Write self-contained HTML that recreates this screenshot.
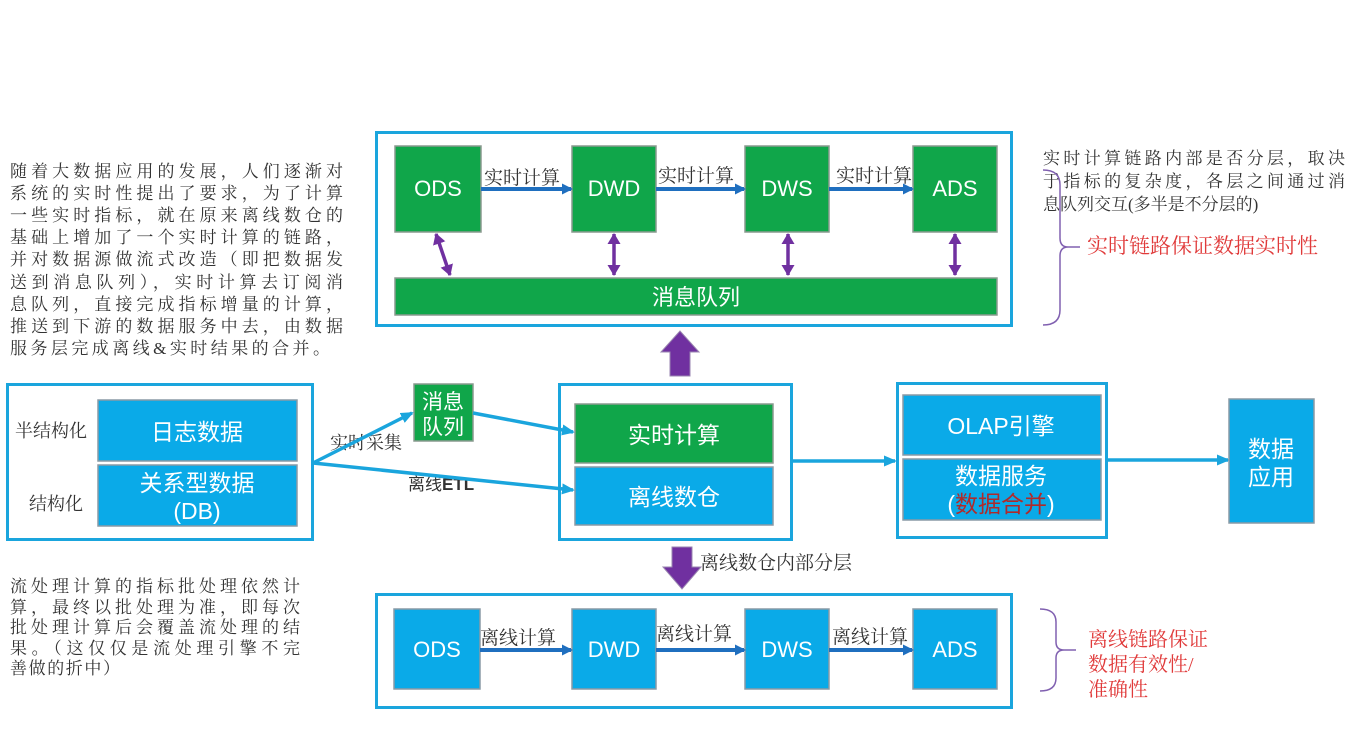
<!DOCTYPE html>
<html><head><meta charset="utf-8">
<style>
html,body{margin:0;padding:0;background:#fff;}
svg{display:block;}
.s{font-family:"Liberation Serif","Noto Serif CJK SC",serif;fill:#333;}
.w{font-family:"Liberation Sans","Noto Sans CJK SC",sans-serif;fill:#fff;}
.r{font-family:"Liberation Serif","Noto Serif CJK SC",serif;fill:#e03a3a;}
</style></head>
<body>
<svg width="1372" height="750" viewBox="0 0 1372 750" xmlns="http://www.w3.org/2000/svg">
<defs>
<marker id="ab" markerWidth="11" markerHeight="11" refX="9" refY="5.5" orient="auto" markerUnits="userSpaceOnUse"><path d="M0,0 L11,5.5 L0,11 z" fill="#1f6fbf"/></marker>
<marker id="al" markerWidth="13" markerHeight="11" refX="11" refY="5.5" orient="auto" markerUnits="userSpaceOnUse"><path d="M0,0 L13,5.5 L0,11 z" fill="#1aa5dd"/></marker>
<marker id="pe" markerWidth="11" markerHeight="13" refX="10" refY="6.5" orient="auto" markerUnits="userSpaceOnUse"><path d="M0,0 L11,6.5 L0,13 z" fill="#7030a0"/></marker>
<marker id="ps" markerWidth="11" markerHeight="13" refX="1" refY="6.5" orient="auto" markerUnits="userSpaceOnUse"><path d="M11,0 L0,6.5 L11,13 z" fill="#7030a0"/></marker>
</defs>

<g class="s" font-size="17">
<text x="10" y="177" textLength="333">随着大数据应用的发展，人们逐渐对</text>
<text x="10" y="199" textLength="333">系统的实时性提出了要求，为了计算</text>
<text x="10" y="221" textLength="333">一些实时指标，就在原来离线数仓的</text>
<text x="10" y="243" textLength="333">基础上增加了一个实时计算的链路，</text>
<text x="10" y="265" textLength="333">并对数据源做流式改造（即把数据发</text>
<text x="10" y="288" textLength="333">送到消息队列），实时计算去订阅消</text>
<text x="10" y="310" textLength="333">息队列，直接完成指标增量的计算，</text>
<text x="10" y="332" textLength="333">推送到下游的数据服务中去，由数据</text>
<text x="10" y="354" textLength="320">服务层完成离线&amp;实时结果的合并。</text>
</g>
<g class="s" font-size="17">
<text x="10" y="592" textLength="290">流处理计算的指标批处理依然计</text>
<text x="10" y="613" textLength="290">算，最终以批处理为准，即每次</text>
<text x="10" y="633" textLength="290">批处理计算后会覆盖流处理的结</text>
<text x="10" y="654" textLength="290">果。（这仅仅是流处理引擎不完</text>
<text x="10" y="674" textLength="110">善做的折中）</text>
</g>

<rect x="376.5" y="132.5" width="635" height="193" fill="none" stroke="#1aa5dd" stroke-width="3"/>
<g fill="#10a64a" stroke="#8a9a8f" stroke-width="1.5">
<rect x="395" y="146" width="86" height="86"/>
<rect x="572" y="146" width="84" height="86"/>
<rect x="745" y="146" width="84" height="86"/>
<rect x="913" y="146" width="84" height="86"/>
<rect x="395" y="278" width="602" height="37"/>
</g>
<g class="w" font-size="22" text-anchor="middle">
<text x="438" y="196">ODS</text><text x="614" y="196">DWD</text><text x="787" y="196">DWS</text><text x="955" y="196">ADS</text>
<text x="696" y="305">消息队列</text>
</g>
<g stroke="#1f6fbf" stroke-width="4" marker-end="url(#ab)">
<line x1="481" y1="189" x2="571" y2="189"/>
<line x1="656" y1="189" x2="744" y2="189"/>
<line x1="829" y1="189" x2="912" y2="189"/>
</g>
<g class="s" font-size="19">
<text x="484" y="184">实时计算</text><text x="658" y="182">实时计算</text><text x="836" y="182">实时计算</text>
</g>
<g stroke="#7030a0" stroke-width="3.5" marker-end="url(#pe)" marker-start="url(#ps)">
<line x1="436" y1="234" x2="450" y2="275"/>
<line x1="614" y1="234" x2="614" y2="275"/>
<line x1="788" y1="234" x2="788" y2="275"/>
<line x1="955" y1="234" x2="955" y2="275"/>
</g>

<g class="s" font-size="17">
<text x="1043" y="164" textLength="302">实时计算链路内部是否分层，取决</text>
<text x="1043" y="187" textLength="302">于指标的复杂度，各层之间通过消</text>
<text x="1043" y="210">息队列交互(多半是不分层的)</text>
</g>
<text class="r" x="1087" y="253" font-size="21">实时链路保证数据实时性</text>
<path d="M1043,170 Q1060,170 1060,185 L1060,238 Q1060,247 1068,247 Q1060,247 1060,256 L1060,310 Q1060,325 1043,325" fill="none" stroke="#8060b0" stroke-width="1.5"/>
<line x1="1068" y1="247" x2="1080" y2="247" stroke="#8060b0" stroke-width="1.5"/>

<path d="M670,376 L670,352 L661,352 L680,331 L699,352 L690,352 L690,376 z" fill="#7030a0" stroke="#9a86b0" stroke-width="1"/>

<rect x="7.5" y="384.5" width="305" height="155" fill="none" stroke="#1aa5dd" stroke-width="3"/>
<g fill="#0aaae8" stroke="#8a9aa5" stroke-width="1.5">
<rect x="98" y="400" width="199" height="61"/>
<rect x="98" y="465" width="199" height="61"/>
</g>
<g class="w" font-size="23" text-anchor="middle">
<text x="197" y="440">日志数据</text>
<text x="197" y="491">关系型数据</text>
<text x="197" y="519">(DB)</text>
</g>
<g class="s" font-size="18"><text x="15" y="437">半结构化</text><text x="29" y="510">结构化</text><text x="330" y="449">实时采集</text></g>
<text x="408" y="490" font-size="17" font-family="Liberation Sans,'Noto Sans CJK SC',sans-serif" fill="#333">离线<tspan font-weight="bold">ETL</tspan></text>

<rect x="414" y="384" width="59" height="57" fill="#10a64a" stroke="#8a9a8f" stroke-width="1.5"/>
<g class="w" font-size="21" text-anchor="middle"><text x="443" y="409">消息</text><text x="443" y="434">队列</text></g>

<g stroke="#1aa5dd" stroke-width="3.5" fill="none" marker-end="url(#al)">
<line x1="313" y1="463" x2="412" y2="413"/>
<line x1="473" y1="413" x2="573" y2="432"/>
<line x1="313" y1="463" x2="573" y2="490"/>
<line x1="792" y1="461" x2="895" y2="461"/>
<line x1="1107" y1="460" x2="1228" y2="460"/>
</g>

<rect x="559.5" y="384.5" width="232" height="155" fill="none" stroke="#1aa5dd" stroke-width="3"/>
<rect x="575" y="404" width="198" height="59" fill="#10a64a" stroke="#8a9a8f" stroke-width="1.5"/>
<rect x="575" y="467" width="198" height="58" fill="#0aaae8" stroke="#8a9aa5" stroke-width="1.5"/>
<g class="w" font-size="23" text-anchor="middle"><text x="674" y="443">实时计算</text><text x="674" y="505">离线数仓</text></g>

<rect x="897.5" y="383.5" width="209" height="154" fill="none" stroke="#1aa5dd" stroke-width="3"/>
<g fill="#0aaae8" stroke="#8a9aa5" stroke-width="1.5">
<rect x="903" y="395" width="198" height="60"/>
<rect x="903" y="459" width="198" height="61"/>
<rect x="1229" y="399" width="85" height="124"/>
</g>
<g class="w" font-size="23" text-anchor="middle">
<text x="1001" y="434">OLAP引擎</text>
<text x="1001" y="484">数据服务</text>
<text x="1001" y="512">(<tspan fill="#b02a2a">数据合并</tspan>)</text>
<text x="1271" y="457">数据</text><text x="1271" y="485">应用</text>
</g>

<path d="M672,547 L672,567 L663,567 L682,589 L701,567 L692,567 L692,547 z" fill="#7030a0" stroke="#9a86b0" stroke-width="1"/>
<text class="s" x="700" y="569" font-size="19">离线数仓内部分层</text>

<rect x="376.5" y="594.5" width="635" height="113" fill="none" stroke="#1aa5dd" stroke-width="3"/>
<g fill="#0aaae8" stroke="#8a9aa5" stroke-width="1.5">
<rect x="394" y="609" width="86" height="80"/>
<rect x="572" y="609" width="84" height="80"/>
<rect x="745" y="609" width="84" height="80"/>
<rect x="913" y="609" width="84" height="80"/>
</g>
<g class="w" font-size="22" text-anchor="middle">
<text x="437" y="657">ODS</text><text x="614" y="657">DWD</text><text x="787" y="657">DWS</text><text x="955" y="657">ADS</text>
</g>
<g stroke="#1f6fbf" stroke-width="4" marker-end="url(#ab)">
<line x1="480" y1="650" x2="571" y2="650"/>
<line x1="656" y1="650" x2="744" y2="650"/>
<line x1="829" y1="650" x2="912" y2="650"/>
</g>
<g class="s" font-size="19">
<text x="480" y="644">离线计算</text><text x="656" y="640">离线计算</text><text x="832" y="643">离线计算</text>
</g>
<path d="M1040,609 Q1056,609 1056,622 L1056,642 Q1056,650 1064,650 Q1056,650 1056,658 L1056,678 Q1056,691 1040,691" fill="none" stroke="#8060b0" stroke-width="1.5"/>
<line x1="1064" y1="650" x2="1076" y2="650" stroke="#8060b0" stroke-width="1.5"/>
<g class="r" font-size="20">
<text x="1088" y="646">离线链路保证</text>
<text x="1088" y="671">数据有效性/</text>
<text x="1088" y="696">准确性</text>
</g>
</svg>
</body></html>
